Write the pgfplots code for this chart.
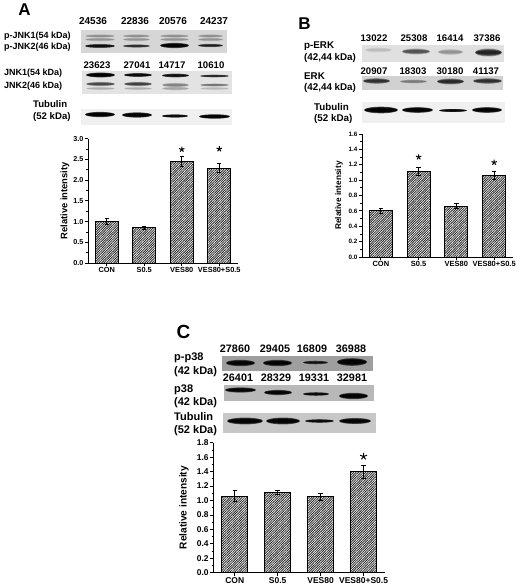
\documentclass[border=0pt]{standalone}
\usepackage{fontspec}
\setmainfont{Liberation Sans}
\usepackage{pgfplots}
\pgfplotsset{compat=1.18}
\usetikzlibrary{patterns.meta}

% one soft blot band: x1, x2, y centre, half height, opacity per layer
\newcommand{\band}[5]{%
  \pgfmathsetmacro\xc{(#1+#2)/2}%
  \pgfmathsetmacro\rx{(#2-#1)/2}%
  \foreach \s in {1.0,0.85,0.7,0.55,0.4}{%
    \fill[black,opacity=#5] (\xc,#3) ellipse [x radius={\rx*(0.88+0.12*\s)}, y radius={#4*\s}];
  }%
}
\newcommand{\lbl}[3]{\node[anchor=west,inner sep=0pt,font=\bfseries\fontsize{#3}{#3}\selectfont] at (#1) {#2};}
\newcommand{\num}[3]{\node[inner sep=0pt,font=\bfseries\fontsize{#3}{#3}\selectfont] at (#1) {#2};}

\pgfplotsset{
  panel/.style={
    scale only axis,
    anchor=south west,
    axis lines=left,
    axis line style={-,line width=0.9pt},
    tick align=outside,
    tick style={black,line width=0.8pt},
    major tick length=3pt,
    minor tick length=1.8pt,
    minor y tick num=1,
    xmin=-0.5, xmax=3.5,
    ymin=0,
    xtick={0,1,2,3},
    xticklabels={CON,S0.5,VES80,VES80+S0.5},
    clip=false,
    /pgf/number format/assume math mode=true,
    /pgf/number format/fixed,
    /pgf/number format/fixed zerofill,
    /pgf/number format/precision=1,
  },
  bars/.style={
    ybar, bar shift=0pt, bar width=#1,
    draw=black, line width=0.9pt,
    pattern={Lines[angle=45,distance=1.7pt,line width=0.85pt]},
    pattern color=black!85,
    error bars/.cd, y dir=both, y explicit,
    error bar style={black,line width=1pt},
    error mark options={rotate=90,black,mark size=2.2pt,line width=1pt},
  },
  stars/.style={only marks, mark=star, mark size=#1, mark options={black,line width=1pt}},
}

\begin{document}
\begin{tikzpicture}
\useasboundingbox (0,0) rectangle (520pt,-588pt);

\begin{scope}[x=1pt,y=-1pt]
% ---- blots A
\fill[black!16] (81,30) rectangle (227,53);
\foreach \a/\b in {85/115,123/150,160/189,198/223}{\band{\a}{\b}{36}{1.6}{0.08}\band{\a}{\b}{39.5}{1.8}{0.07}}
\band{85}{115}{46}{2}{0.42}\band{123}{150}{46}{1.6}{0.28}\band{160}{189}{45.5}{2.6}{0.55}\band{198}{223}{45.5}{1.7}{0.32}
\fill[black!11] (82,71) rectangle (232,94);
\band{86}{115}{75}{2.4}{0.6}\band{124}{152}{75}{1.9}{0.48}\band{162}{189}{75.5}{1.9}{0.42}\band{200}{229}{76}{1.3}{0.33}
\band{86}{115}{84}{2.2}{0.2}\band{124}{152}{84}{2.2}{0.22}\band{162}{189}{85}{2.2}{0.1}\band{200}{229}{85}{1.5}{0.13}
\band{86}{115}{88.5}{1.5}{0.05}\band{124}{152}{88.5}{1.5}{0.05}\band{162}{189}{88.5}{2}{0.06}\band{200}{229}{88.5}{1.5}{0.04}
\fill[black!6] (81,109) rectangle (232,125);
\band{85}{115}{114.5}{2.6}{0.6}\band{122}{152}{115}{2.6}{0.6}\band{162}{188}{116}{1.6}{0.5}\band{199}{230}{116.5}{2.2}{0.6}
% ---- blots B
\fill[black!12] (362,45) rectangle (504,62);
\band{365}{392}{50}{2.5}{0.03}\band{402}{430}{51.5}{3}{0.18}\band{438}{463}{52}{3}{0.08}\band{475}{502}{52.5}{4}{0.3}
\fill[black!18] (362,76) rectangle (503,90);
\band{363}{390}{81}{2.8}{0.25}\band{400}{427}{81.5}{2}{0.1}\band{437}{464}{81.5}{3}{0.28}\band{473}{502}{81}{2.8}{0.25}
\fill[black!6] (362,102) rectangle (505,123);
\band{364}{398}{110}{3.3}{0.6}\band{402}{433}{110}{2.8}{0.6}\band{439}{467}{110.5}{1.5}{0.55}\band{472}{502}{110}{2.8}{0.6}
% ---- blots C
\fill[black!38] (222,356) rectangle (373,371);
\band{226}{255}{363}{3.2}{0.5}\band{263}{292}{363}{3.2}{0.5}\band{303}{328}{362.5}{1.8}{0.35}\band{337}{367}{362}{3.8}{0.55}
\fill[black!28] (224,385) rectangle (374,401);
\band{225}{256}{390}{2.6}{0.5}\band{264}{292}{392.5}{2.6}{0.5}\band{303}{329}{394}{1.8}{0.45}\band{339}{368}{396}{3.2}{0.55}
\fill[black!22] (223,413) rectangle (376,433);
\band{227}{263}{421}{3.4}{0.55}\band{266}{300}{421}{3.4}{0.55}\band{305}{334}{421}{1.8}{0.45}\band{339}{371}{421}{3}{0.52}

% ---- panel letters
\num{24.5,10}{A}{17}
\num{304.5,24}{B}{17}
\num{183.5,332}{C}{19}

% ---- labels A
\foreach \x/\t in {93/24536,135/22836,173/20576,214/24237}{\num{\x,21}{\t}{10}}
\foreach \x/\t in {97/23623,137/27041,172/14717,211/10610}{\num{\x,65}{\t}{9.6}}
\lbl{4,36}{p-JNK1(54 kDa)}{9}
\lbl{4,47.5}{p-JNK2(46 kDa)}{9}
\lbl{4,73.5}{JNK1(54 kDa)}{9}
\lbl{4,86}{JNK2(46 kDa)}{9}
\lbl{33,104.5}{Tubulin}{9.6}
\lbl{33,117}{(52 kDa)}{9.6}
% ---- labels B
\foreach \x/\t in {374/13022,414/25308,450/16414,487/37386}{\num{\x,38}{\t}{9.6}}
\foreach \x/\t in {374/20907,413/18303,450/30180,486/41137}{\num{\x,71}{\t}{9.6}}
\lbl{304,46}{p-ERK}{9.8}
\lbl{304,58}{(42,44 kDa)}{9.8}
\lbl{304,76}{ERK}{9.8}
\lbl{304,88}{(42,44 kDa)}{9.8}
\lbl{314,107}{Tubulin}{9.8}
\lbl{314,119}{(52 kDa)}{9.8}
% ---- labels C
\foreach \x/\t in {235/27860,275/29405,312/16809,351/36988}{\num{\x,349}{\t}{10.8}}
\foreach \x/\t in {238/26401,276/28329,314/19331,352/32981}{\num{\x,378}{\t}{10.8}}
\lbl{174,358}{p-p38}{11}
\lbl{174,372}{(42 kDa)}{11}
\lbl{174,390}{p38}{11}
\lbl{174,403}{(42 kDa)}{11}
\lbl{174,417}{Tubulin}{11}
\lbl{174,431}{(52 kDa)}{11}
\end{scope}

% ---- panel A
\begin{axis}[panel, at={(88pt,-263pt)}, width=150pt, height=124.4pt,
  ymax=3, ytick={0,0.5,...,3},
  ylabel={Relative intensity},
  every axis y label/.style={at={(axis description cs:-0.153,0.5)},rotate=90,anchor=center,font=\bfseries\fontsize{9.4}{9.4}\selectfont},
  xticklabel style={font=\bfseries\fontsize{7.4}{7.4}\selectfont,inner sep=1.5pt},
  yticklabel style={font=\bfseries\fontsize{7.2}{7.2}\selectfont,inner sep=1.5pt},
]
\addplot[bars=23pt] coordinates {(0,1.00) +- (0,0.08) (1,0.85) +- (0,0.04) (2,2.44) +- (0,0.12) (3,2.29) +- (0,0.11)};
\addplot[stars=2.8pt] coordinates {(2,2.74) (3,2.75)};
\end{axis}

% ---- panel B
\begin{axis}[panel, at={(362pt,-257pt)}, width=151pt, height=123pt,
  ymax=1.6, ytick={0,0.2,...,1.6},
  ylabel={Relative intensity},
  every axis y label/.style={at={(axis description cs:-0.152,0.5)},rotate=90,anchor=center,font=\bfseries\fontsize{8.3}{8.3}\selectfont},
  xticklabel style={font=\bfseries\fontsize{7.5}{7.5}\selectfont,inner sep=1.5pt},
  yticklabel style={font=\bfseries\fontsize{6.3}{6.3}\selectfont,inner sep=1.5pt},
]
\addplot[bars=23pt] coordinates {(0,0.60) +- (0,0.03) (1,1.11) +- (0,0.055) (2,0.66) +- (0,0.03) (3,1.06) +- (0,0.055)};
\addplot[stars=2.8pt] coordinates {(1,1.30) (3,1.23)};
\end{axis}

% ---- panel C
\begin{axis}[panel, at={(213.3pt,-572.7pt)}, width=171.7pt, height=130pt,
  ymax=1.8, ytick={0,0.2,...,1.8},
  ylabel={Relative intensity},
  every axis y label/.style={at={(axis description cs:-0.171,0.5)},rotate=90,anchor=center,font=\bfseries\fontsize{10.1}{10.1}\selectfont},
  xticklabel style={font=\bfseries\fontsize{8.5}{8.5}\selectfont,inner sep=1.5pt},
  yticklabel style={font=\bfseries\fontsize{8.4}{8.4}\selectfont,inner sep=1.5pt},
]
\addplot[bars=26pt] coordinates {(0,1.06) +- (0,0.08) (1,1.11) +- (0,0.03) (2,1.05) +- (0,0.05) (3,1.40) +- (0,0.09)};
\addplot[stars=3.6pt] coordinates {(3,1.61)};
\end{axis}
\end{tikzpicture}
\end{document}
